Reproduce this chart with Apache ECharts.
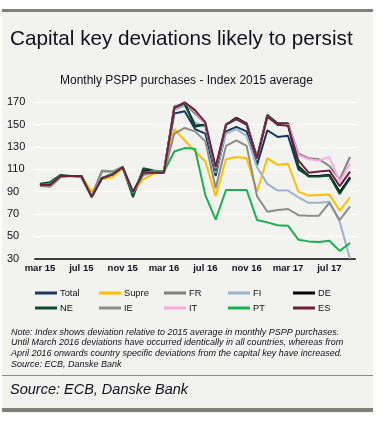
<!DOCTYPE html>
<html>
<head>
<meta charset="utf-8">
<script src="https://cdn.jsdelivr.net/npm/echarts@6/dist/echarts.min.js"></script>
<style>
html,body{margin:0;padding:0;background:#ffffff;}
#chart{width:382px;height:422px;}
</style>
</head>
<body>
<div id="chart"></div>
<script>
// ---- data ----
var months = ['mar 15','apr 15','may 15','jun 15','jul 15','aug 15','sep 15','oct 15','nov 15','dec 15',
  'jan 16','feb 16','mar 16','apr 16','may 16','jun 16','jul 16','aug 16','sep 16','oct 16','nov 16','dec 16',
  'jan 17','feb 17','mar 17','apr 17','may 17','jun 17','jul 17','aug 17','sep 17'];
var yTicks = [30, 50, 70, 90, 110, 130, 150, 170];
var seriesNames = ['Total','Supre','FR','FI','DE','NE','IE','IT','PT','ES'];

var total = [96,97,104,104,104,86,102,106,112,89,108,108,108, 160,162,146,142,104,144,148,144,114,145,139,140,110,104,104,105,90,102];
var supre = [96,96,104,104,104,90,101,103,111,90,101,106,108, 146,136,126,117,86,119,121,120,90,120,114,115,90,86.5,87,87.5,73,85];
var fr    = [96,96,104,104,103,86,108,108,112,89,106,107,108, 165,169,160,151,111,150,156,151,121,159,151,151,124,120,119,113,101,121];
var fi    = [96,97,104,104,104,86,102,106,112,89,107,108,108, 163,167,152,148,107,142,146,140,112,97,91,91,85,80,80,81,63,30];
var de    = [96,97,104,104,104,86,102,106,112,87,109,108,108, 165,169,149,150,110,150,156,151,120,158,151,151,113,104,104,105,89,103];
var ne    = [97,98.5,105,104,104,86,102,106,112,85,111,109,108, 166,169,148,150,109,150,155,150,120,158,150,150,112,103.5,103.5,104.5,88,102];
var ie    = [95,94.5,103,104,103,86,109,108,112,89,105,107,107, 142,147,144,135,93,131,136,131,86,72,73.5,74.5,69,68.5,68.5,80,64.7,76.6];
var it    = [96,96,104,104,104,86,102,106,112,89,107,108,108, 165,170,162,151,111,150,155,150,120,157,150,150,123,119,118,121,99,115];
var pt    = [96,97,104,104,104,86,102,106,112,89,107,108,108, 126,129,128.5,87,65,91.5,91.5,91.5,64.7,62.5,60,59.6,47,45.5,45,46,37,44];
var es    = [96,96,104,104,104,85,102,105,112,90,107,107,107, 165,170,163,152,112,150,155,150,120,157,150,149,118,107,108,109,95,108];

var seriesData = [total, supre, fr, fi, de, ne, ie, it, pt, es];
var colors = ['#15395e','#ffbf00','#7f7f7f','#9bb2cc','#000000','#0b4d2c','#8c8c8c','#f9a8e4','#19b050','#6d2139'];

var FONT = '"Liberation Sans", Arial, sans-serif';
var TXT = '#10101f';

var chart = echarts.init(document.getElementById('chart'), null, {renderer:'canvas'});

var legendCols = [35, 99, 164, 228, 293];
var legendRows = [288.5, 303.5];
var legends = seriesNames.map(function(n, i){
  return {
    data: [n],
    left: legendCols[i % 5],
    top: legendRows[Math.floor(i / 5)],
    padding: 0,
    icon: 'rect',
    itemWidth: 22,
    itemHeight: 3,
    selectedMode: false,
    textStyle: {fontFamily: FONT, fontSize: 9.3, color: TXT, padding: [0,0,0,-2]}
  };
});

var option = {
  backgroundColor: '#ffffff',
  animation: false,
  color: colors,
  title: [
    {text: 'Capital key deviations likely to persist', left: 10, top: 29, padding: 0,
     textStyle: {fontFamily: FONT, fontSize: 20.7, fontWeight: 'normal', color: TXT}},
    {text: 'Monthly PSPP purchases - Index 2015 average', left: 60, top: 75, padding: 0,
     textStyle: {fontFamily: FONT, fontSize: 12, fontWeight: 'normal', color: TXT}},
    {text: 'Note: Index shows deviation relative to 2015 average in monthly PSPP purchases.\nUntil March 2016 deviations have occurred identically in all countries, whereas from\nApril 2016 onwards country specific deviations from the capital key have increased.\nSource: ECB, Danske Bank',
     left: 11, top: 326.6, padding: 0,
     textStyle: {fontFamily: FONT, fontSize: 9, fontStyle: 'italic', fontWeight: 'normal', color: TXT, lineHeight: 10.8}},
    {text: 'Source: ECB, Danske Bank', left: 10, top: 382, padding: 0,
     textStyle: {fontFamily: FONT, fontSize: 14.5, fontStyle: 'italic', fontWeight: 'normal', color: TXT}}
  ],
  legend: legends,
  graphic: [
    {type: 'rect', z: -10, silent: true, shape: {x: 2, y: 9, width: 371, height: 404}, style: {fill: '#f2f2ee'}},
    {type: 'rect', z: -9, silent: true, shape: {x: 2, y: 9, width: 371, height: 3}, style: {fill: '#7f8179'}},
    {type: 'rect', z: -9, silent: true, shape: {x: 2, y: 408, width: 371, height: 4}, style: {fill: '#7f8179'}},
    {type: 'line', z: -9, silent: true, shape: {x1: 2, y1: 375.5, x2: 373, y2: 375.5}, style: {stroke: '#8c8c88', lineWidth: 1}}
  ],
  grid: {left: 34.8, right: 26.8, top: 102.3, bottom: 163.3, containLabel: false},
  xAxis: {
    type: 'category',
    data: months,
    boundaryGap: true,
    axisLine: {show: true, lineStyle: {color: '#000000', width: 1.5}},
    axisTick: {show: false},
    axisLabel: {
      interval: function(idx){ return idx % 4 === 0; },
      margin: 5,
      fontFamily: FONT, fontSize: 9.5, fontWeight: 'bold', color: TXT
    },
    splitLine: {show: false}
  },
  yAxis: {
    type: 'value',
    min: yTicks[0], max: yTicks[yTicks.length - 1], interval: 20,
    axisLine: {show: false},
    axisTick: {show: false},
    axisLabel: {align: 'left', margin: 27.8, fontFamily: FONT, fontSize: 11, color: TXT},
    splitLine: {show: true, lineStyle: {color: '#ffffff', width: 1.2}}
  },
  series: seriesNames.map(function(n, i){
    return {
      name: n, type: 'line', data: seriesData[i],
      symbol: 'none', smooth: false,
      lineStyle: {width: 2, color: colors[i]},
      itemStyle: {color: colors[i]},
      z: 2 + i
    };
  })
};
chart.setOption(option);
</script>
</body>
</html>
